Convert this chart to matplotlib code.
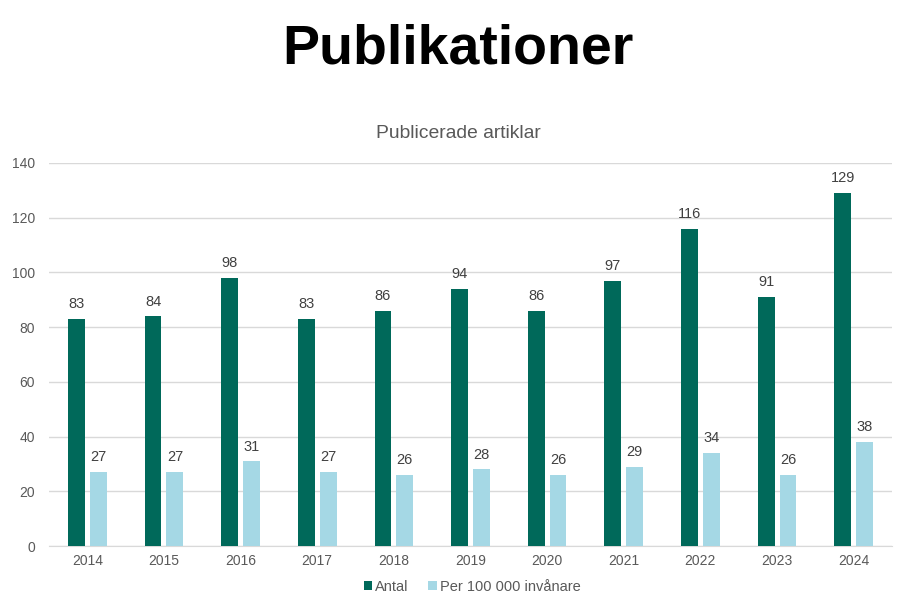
import matplotlib
matplotlib.use("Agg")
import matplotlib.pyplot as plt
import numpy as np

years = ["2014", "2015", "2016", "2017", "2018", "2019", "2020", "2021", "2022", "2023", "2024"]
antal = [83, 84, 98, 83, 86, 94, 86, 97, 116, 91, 129]
per100k = [27, 27, 31, 27, 26, 28, 26, 29, 34, 26, 38]
series_names = ["Antal", "Per 100 000 invånare"]

plt.rcParams['font.family'] = ['Liberation Sans', 'DejaVu Sans']

dark = "#00695A"
light = "#A5D8E5"
fig = plt.figure(figsize=(9.16, 6.14), dpi=100)
ax = fig.add_axes([49/916, 1-546/614, (892-49)/916, (546-163)/614])

x = np.arange(len(years))
w = 0.22
gap = 0.065
off = (w + gap) / 2
b1 = ax.bar(x - off, antal, w, color=dark, label=series_names[0], zorder=3)
b2 = ax.bar(x + off, per100k, w, color=light, label=series_names[1], zorder=3)

for bars in (b1, b2):
    for r in bars:
        ax.text(r.get_x() + r.get_width()/2, r.get_height() + 2.8, f"{int(r.get_height())}",
                ha='center', va='bottom', fontsize=10.5, color="#404040")

ax.set_xlim(-0.5, len(years) - 0.5)
ax.set_ylim(0, 140)
ax.set_yticks(range(0, 141, 20))
ax.set_xticks(x)
ax.set_xticklabels(years)
ax.tick_params(axis='both', length=0, labelsize=10, colors="#595959")
ax.tick_params(axis='y', pad=10)
ax.tick_params(axis='x', pad=6)
ax.grid(axis='y', color="#D9D9D9", linewidth=1, zorder=0)
for s in ['top', 'right', 'left']:
    ax.spines[s].set_visible(False)
ax.spines['bottom'].set_color("#D9D9D9")

fig.text(0.5, 1-64/614, "Publikationer", ha='center', va='baseline', fontsize=40, fontweight='bold', color='black')
fig.text(0.5, 1-133/614, "Publicerade artiklar", ha='center', va='center', fontsize=13.9, color="#595959")

leg = fig.legend(handles=[b1, b2], labels=series_names, loc='center', bbox_to_anchor=(472/916, 1-587/614),
                 ncol=2, frameon=False, fontsize=10.5, handlelength=0.6, handleheight=0.6,
                 handletextpad=0.2, columnspacing=1.3)
for t in leg.get_texts():
    t.set_color("#595959")

fig.savefig("out.png", dpi=100)
